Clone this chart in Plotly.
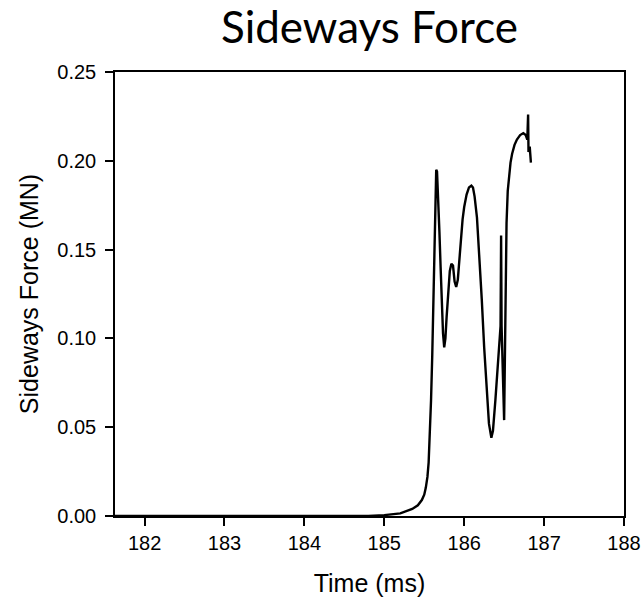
import plotly.graph_objects as go

time_ms = [181.63, 184.8, 185.0, 185.2, 185.35, 185.42, 185.47, 185.5, 185.52, 185.54,
           185.555, 185.57, 185.585, 185.6, 185.615, 185.63, 185.64, 185.65, 185.66, 185.675,
           185.69, 185.705, 185.72, 185.735, 185.75, 185.765, 185.78, 185.8, 185.82, 185.84,
           185.86, 185.88, 185.90, 185.92, 185.94, 185.96, 185.98, 186.0, 186.03, 186.06,
           186.09, 186.11, 186.13, 186.16, 186.19, 186.22, 186.25, 186.28, 186.31, 186.34,
           186.36, 186.39, 186.42, 186.455, 186.462, 186.468, 186.50, 186.515, 186.53, 186.545,
           186.56, 186.58, 186.60, 186.63, 186.66, 186.70, 186.74, 186.77, 186.79, 186.80,
           186.805, 186.82, 186.835]
force_mn = [0.0, 0.0, 0.0005, 0.0015, 0.004, 0.006, 0.009, 0.012, 0.016, 0.022,
            0.03, 0.045, 0.065, 0.09, 0.12, 0.155, 0.18, 0.195, 0.194, 0.18,
            0.16, 0.14, 0.12, 0.103, 0.095, 0.1, 0.112, 0.128, 0.138, 0.142,
            0.141, 0.132, 0.129, 0.133, 0.145, 0.157, 0.167, 0.174, 0.181, 0.185,
            0.186, 0.185, 0.18, 0.168, 0.148, 0.122, 0.095, 0.07, 0.052, 0.044,
            0.048, 0.065, 0.085, 0.107, 0.158, 0.107, 0.054, 0.12, 0.165, 0.183,
            0.192, 0.199, 0.204, 0.209, 0.212, 0.2145, 0.2155, 0.2145, 0.212, 0.226,
            0.205, 0.208, 0.199]

x_ticks = [182, 183, 184, 185, 186, 187, 188]
y_ticks = [0.0, 0.05, 0.10, 0.15, 0.20, 0.25]

fig = go.Figure()
fig.add_trace(go.Scatter(x=time_ms, y=force_mn, mode="lines",
                         line=dict(color="black", width=2.4), showlegend=False))

sans = "Liberation Sans, Arial, sans-serif"
axis_font = dict(family=sans, size=20, color="black")
fig.update_layout(
    width=642, height=598,
    margin=dict(l=115, r=18, t=72, b=82, autoexpand=False),
    paper_bgcolor="white", plot_bgcolor="white",
    title=dict(text="Sideways Force", x=369.5 / 642, xanchor="center",
               y=1 - 28 / 598, yanchor="middle",
               font=dict(family="Lato, Open Sans, sans-serif", size=44, color="black")),
    xaxis=dict(range=[181.63, 188], tickvals=x_ticks, ticktext=[str(v) for v in x_ticks],
               automargin=False,
               showgrid=False, zeroline=False, showline=True, linecolor="black", linewidth=1.5,
               mirror=True, ticks="outside", ticklen=8, tickwidth=1.5, tickcolor="black",
               tickfont=axis_font,
               title=dict(text="Time (ms)", font=dict(family=sans, size=25, color="black"), standoff=22)),
    yaxis=dict(range=[0, 0.25], tickvals=y_ticks, tickformat=".2f",
               automargin=False, ticklabelstandoff=5,
               showgrid=False, zeroline=False, showline=True, linecolor="black", linewidth=1.5,
               mirror=True, ticks="outside", ticklen=8, tickwidth=1.5, tickcolor="black",
               tickfont=axis_font,
               title=dict(text="Sideways Force (MN)", font=dict(family=sans, size=25, color="black"), standoff=12)),
)

fig.write_html("out.html")
